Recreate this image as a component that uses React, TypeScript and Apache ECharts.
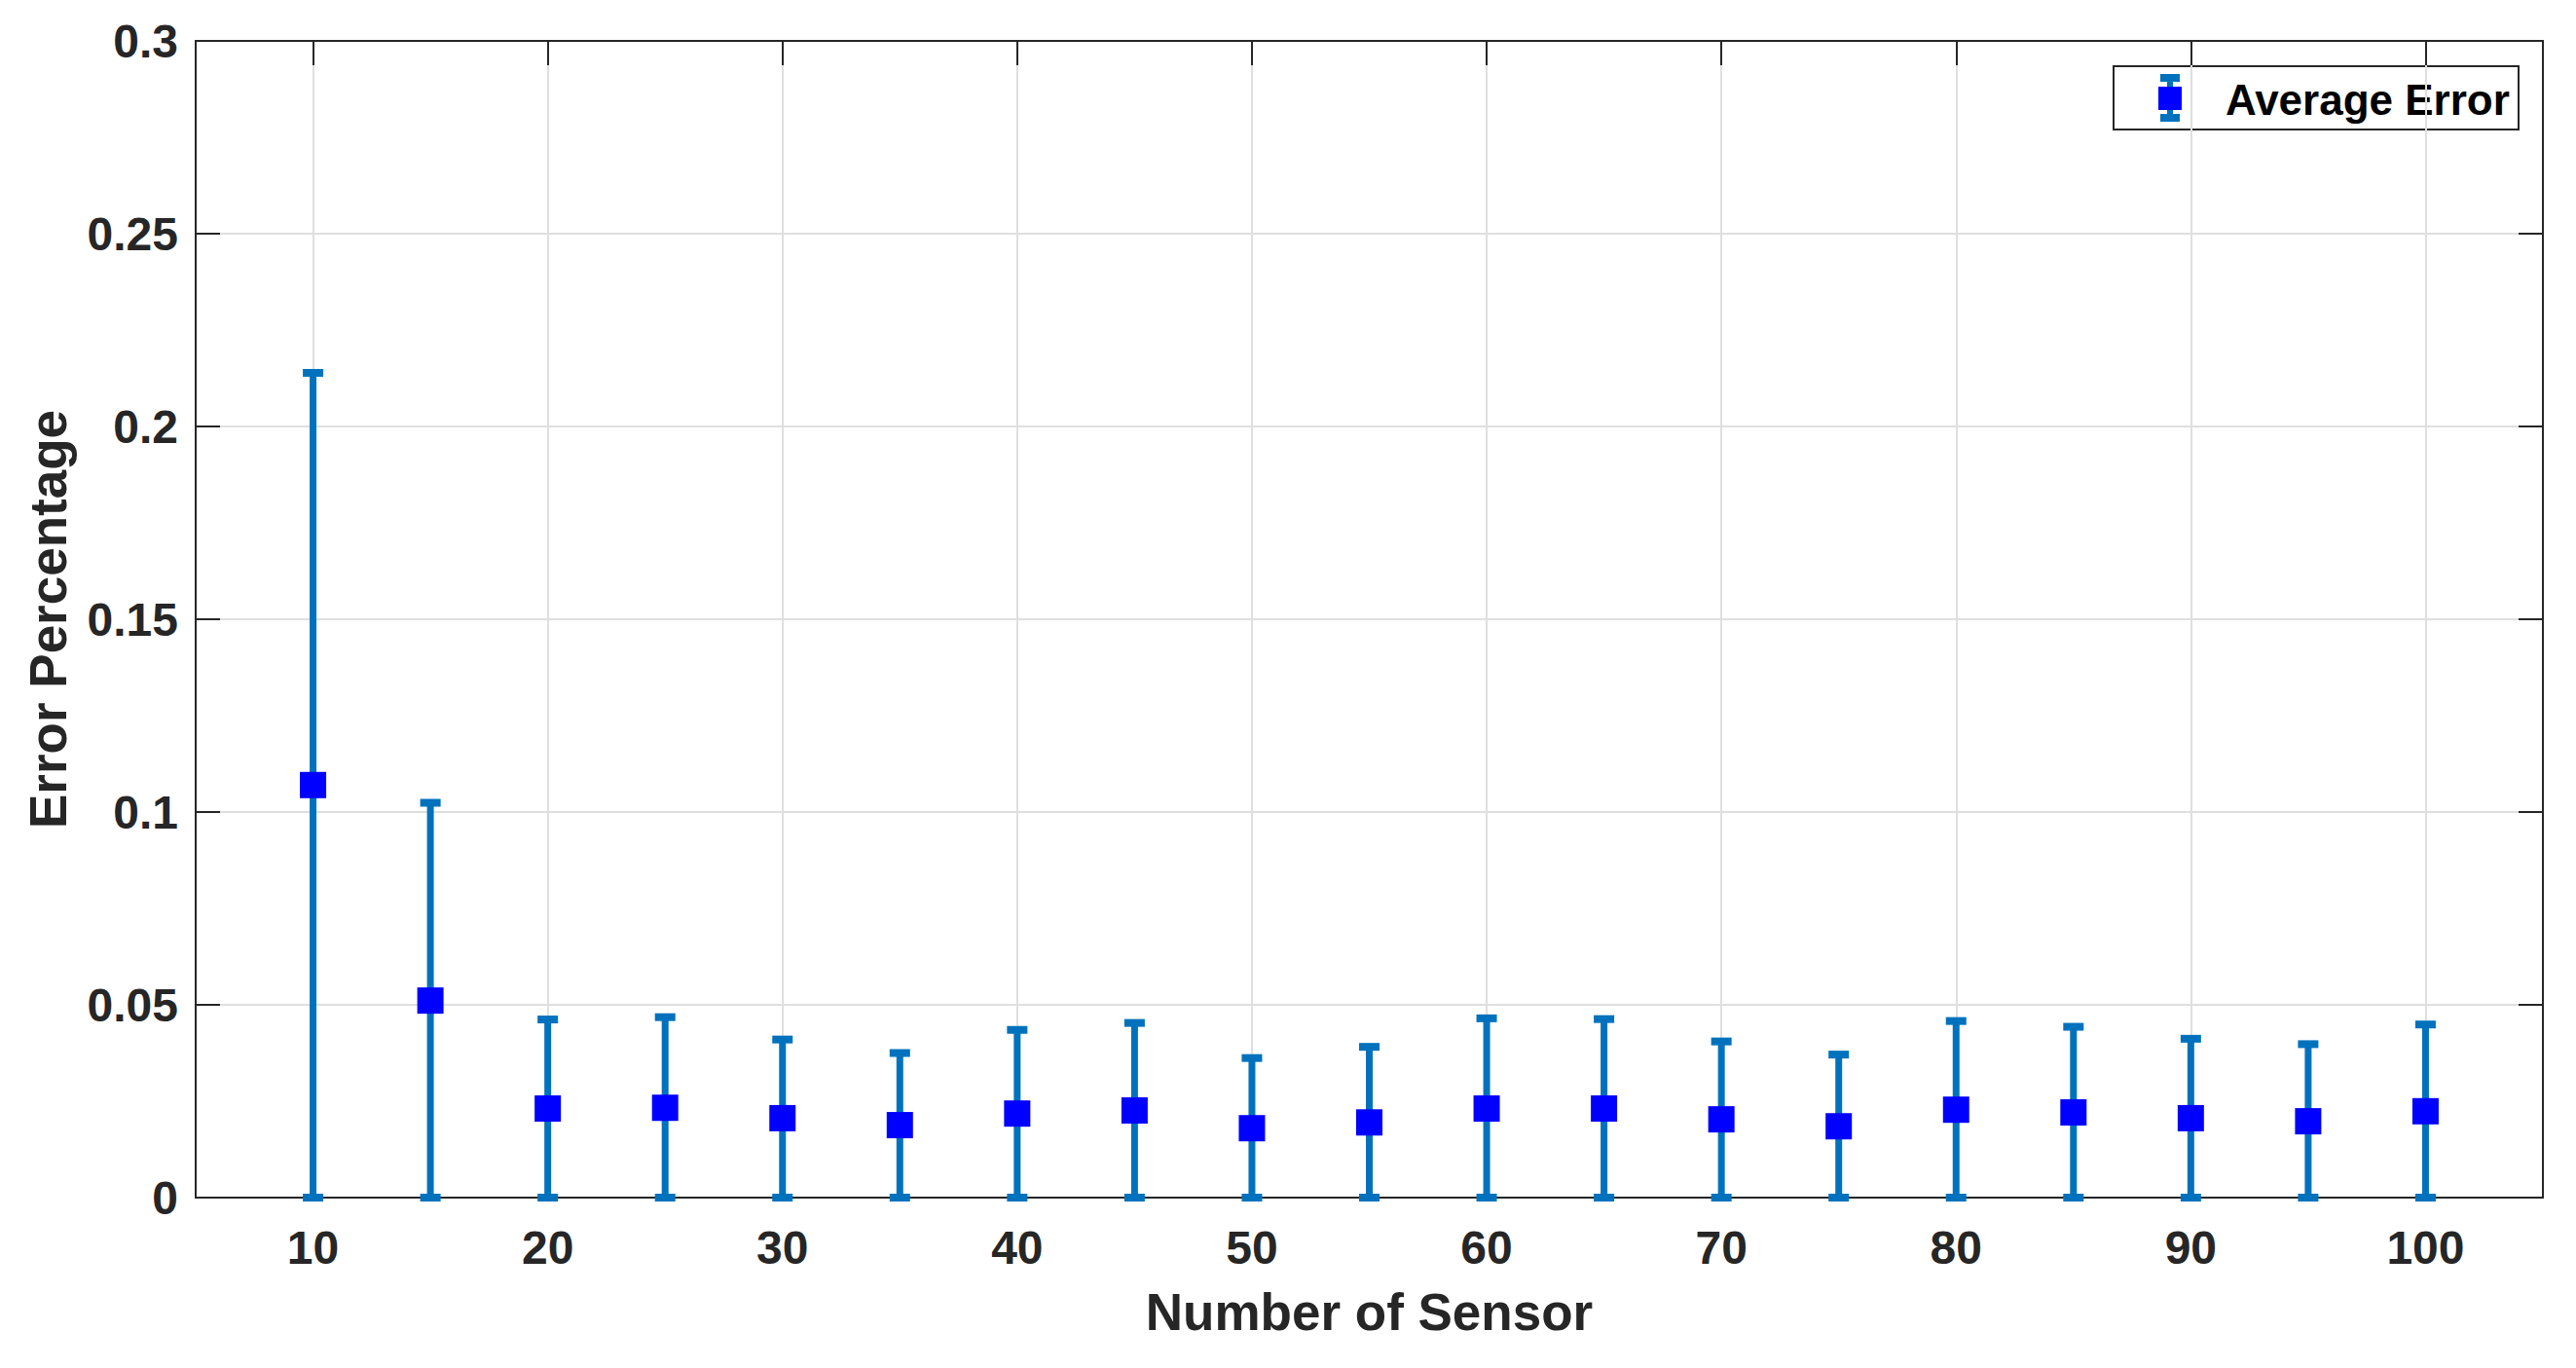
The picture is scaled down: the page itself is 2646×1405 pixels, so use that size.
import React, { useEffect, useRef } from "react";
import * as echarts from "echarts";

// ---- data ----
const sensorCounts = [10, 15, 20, 25, 30, 35, 40, 45, 50, 55, 60, 65, 70, 75, 80, 85, 90, 95, 100];
const averageError = [
  0.107, 0.0511, 0.0231, 0.0233, 0.0206, 0.0188, 0.0218, 0.0226, 0.018, 0.0195,
  0.0231, 0.0231, 0.0203, 0.0185, 0.0228, 0.0221, 0.0206, 0.0198, 0.0224,
];
const errorLower = [0, 0, 0, 0, 0, 0, 0, 0, 0, 0, 0, 0, 0, 0, 0, 0, 0, 0, 0];
const errorUpper = [
  0.2139, 0.1024, 0.0462, 0.0468, 0.041, 0.0375, 0.0435, 0.0453, 0.0362, 0.0391,
  0.0465, 0.0463, 0.0405, 0.0371, 0.0458, 0.0443, 0.0412, 0.0398, 0.0449,
];
const xTickValues = [10, 20, 30, 40, 50, 60, 70, 80, 90, 100];
const xRange = [5, 105];
const yRange = [0, 0.3];
const yStep = 0.05;
const seriesName = "Average Error";
const xTitle = "Number of Sensor";
const yTitle = "Error Percentage";

const FONT = "'Liberation Sans', Arial, Helvetica, sans-serif";
const AXIS_COLOR = "#262626";
const BAR_COLOR = "#0072BD";
const MARK_COLOR = "#0000FF";

export default function App() {
  const ref = useRef<HTMLDivElement>(null);

  useEffect(() => {
    if (!ref.current) return;
    const chart = echarts.init(ref.current, null, { renderer: "svg" });

    const errData = sensorCounts.map((x, i) => [x, errorLower[i], errorUpper[i]]);
    const meanData = sensorCounts.map((x, i) => [x, averageError[i]]);

    const axisLine = { show: true, onZero: false, lineStyle: { color: AXIS_COLOR, width: 2 } };
    const tickStyle = { color: AXIS_COLOR, width: 2 };
    const labelStyle = { fontSize: 48, fontWeight: "bold", color: AXIS_COLOR, fontFamily: FONT };
    const nameStyle = { fontSize: 53, fontWeight: "bold", color: AXIS_COLOR, fontFamily: FONT };

    const option: any = {
      animation: false,
      backgroundColor: "#ffffff",
      grid: { left: 201, right: 34, top: 42, bottom: 175, containLabel: false },
      xAxis: [
        {
          type: "value",
          position: "bottom",
          min: xRange[0],
          max: xRange[1],
          axisLine,
          axisTick: { show: true, inside: true, length: 25, customValues: xTickValues, lineStyle: tickStyle },
          axisLabel: { show: true, customValues: xTickValues, margin: 27, ...labelStyle },
          splitLine: { show: true, lineStyle: { color: "#dfdfdf", width: 2 } },
          name: xTitle,
          nameLocation: "middle",
          nameGap: 91,
          nameTextStyle: nameStyle,
        },
        {
          type: "value",
          position: "top",
          min: xRange[0],
          max: xRange[1],
          axisLine,
          axisTick: { show: true, inside: true, length: 25, customValues: xTickValues, lineStyle: tickStyle },
          axisLabel: { show: false, customValues: xTickValues },
          splitLine: { show: false },
        },
      ],
      yAxis: [
        {
          type: "value",
          position: "left",
          min: yRange[0],
          max: yRange[1],
          interval: yStep,
          axisLine,
          axisTick: { show: true, inside: true, length: 25, lineStyle: tickStyle },
          axisLabel: { show: true, margin: 18, ...labelStyle },
          splitLine: { show: true, lineStyle: { color: "#dfdfdf", width: 2 } },
          name: yTitle,
          nameLocation: "middle",
          nameGap: 125,
          nameTextStyle: nameStyle,
        },
        {
          type: "value",
          position: "right",
          min: yRange[0],
          max: yRange[1],
          interval: yStep,
          axisLine,
          axisTick: { show: true, inside: true, length: 25, lineStyle: tickStyle },
          axisLabel: { show: false },
          splitLine: { show: false },
        },
      ],
      series: [
        {
          type: "custom",
          name: seriesName + " bars",
          xAxisIndex: 0,
          yAxisIndex: 0,
          clip: false,
          z: 3,
          data: errData,
          renderItem: (params: any, api: any) => {
            const x = api.value(0);
            const lo = api.coord([x, api.value(1)]);
            const hi = api.coord([x, api.value(2)]);
            return {
              type: "group",
              children: [
                {
                  type: "line",
                  shape: { x1: lo[0], y1: lo[1], x2: hi[0], y2: hi[1] },
                  style: { stroke: BAR_COLOR, lineWidth: 7 },
                },
                {
                  type: "rect",
                  shape: { x: lo[0] - 10.5, y: lo[1] - 4, width: 21, height: 8 },
                  style: { fill: BAR_COLOR },
                },
                {
                  type: "rect",
                  shape: { x: hi[0] - 10.5, y: hi[1] - 4, width: 21, height: 8 },
                  style: { fill: BAR_COLOR },
                },
              ],
            };
          },
        },
        {
          type: "scatter",
          name: seriesName,
          xAxisIndex: 0,
          yAxisIndex: 0,
          symbol: "rect",
          symbolSize: 27,
          z: 4,
          itemStyle: { color: MARK_COLOR, opacity: 1 },
          data: meanData,
        },
      ],
      graphic: [
        {
          type: "group",
          left: 2170,
          top: 67,
          z: 100,
          children: [
            {
              type: "rect",
              shape: { x: 0, y: 0, width: 416, height: 65 },
              style: { fill: "#ffffff", stroke: AXIS_COLOR, lineWidth: 2 },
            },
            {
              type: "line",
              shape: { x1: 58, y1: 12, x2: 58, y2: 53 },
              style: { stroke: BAR_COLOR, lineWidth: 6 },
            },
            { type: "rect", shape: { x: 48, y: 8, width: 20, height: 8 }, style: { fill: BAR_COLOR } },
            { type: "rect", shape: { x: 48, y: 49, width: 20, height: 8 }, style: { fill: BAR_COLOR } },
            { type: "rect", shape: { x: 46, y: 21, width: 24, height: 24 }, style: { fill: MARK_COLOR } },
            {
              type: "text",
              x: 115,
              y: 34,
              style: {
                text: seriesName,
                fontSize: 44,
                fontWeight: "bold",
                fontFamily: FONT,
                fill: "#000000",
                verticalAlign: "middle",
                align: "left",
              },
            },
          ],
        },
      ],
    };

    chart.setOption(option);
    return () => chart.dispose();
  }, []);

  return (
    <div
      ref={ref}
      style={{ position: "fixed", left: 0, top: 0, width: 2646, height: 1405, background: "#fff" }}
    />
  );
}
